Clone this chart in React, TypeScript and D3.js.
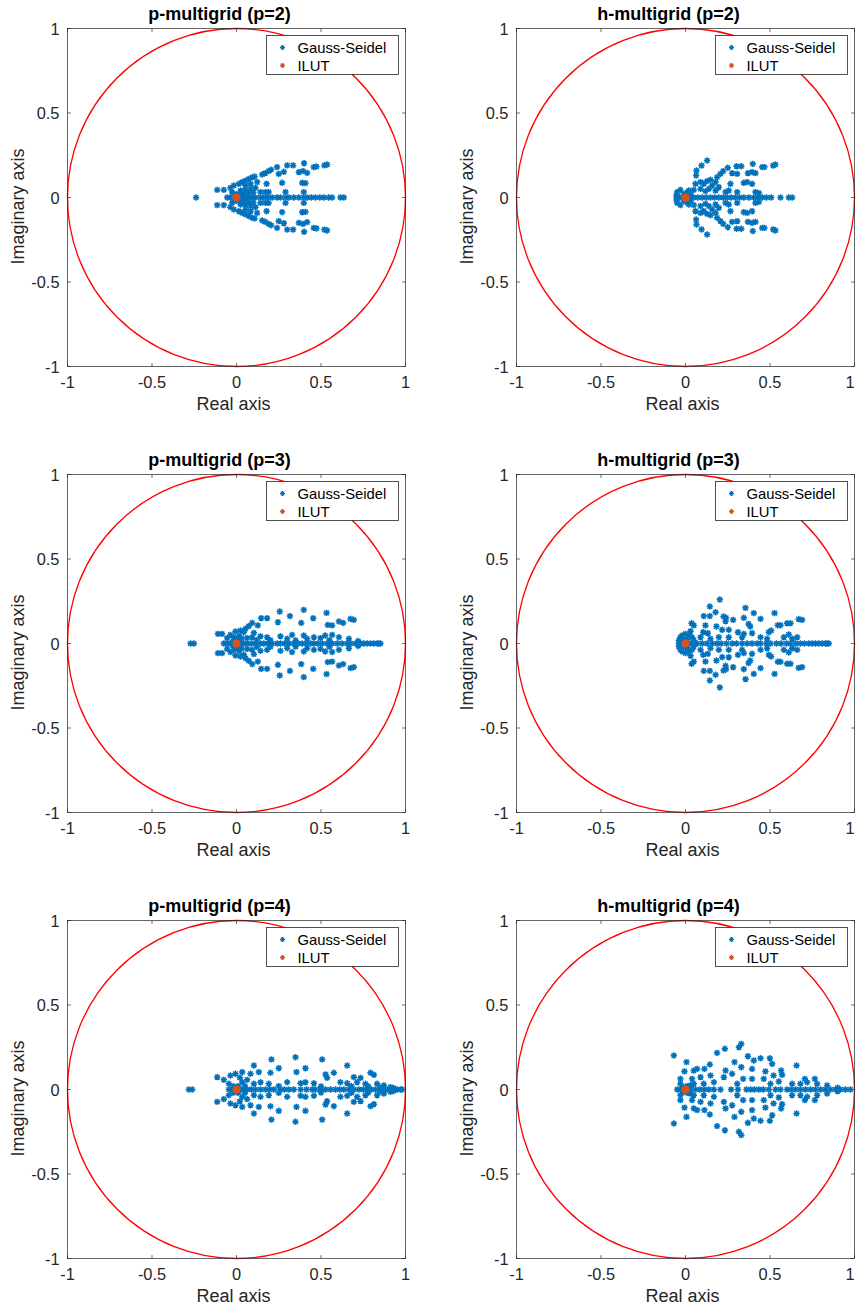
import React from 'react';
import * as d3 from 'd3';

type Pt = [number, number];

// ---------- tick labels ----------
const tickValues = [-1, -0.5, 0, 0.5, 1];
const legendLabels = ['Gauss-Seidel', 'ILUT'];

// ---------- p-multigrid (p=2) ----------
const pMg2Real = [-0.239, -0.055, -0.036, -0.016, 0, 0.01, 0.02, 0.034, 0.053, 0.073, 0.093, 0.112, 0.142, 0.162, 0.185, 0.211, 0.241, 0.26, 0.29, 0.31, 0.339, 0.369, 0.398, 0.418, 0.442, 0.467, 0.493, 0.517, 0.546, 0.566, 0.615, 0.635];
const pMg2Upper: Pt[] = [[-0.114, 0.045], [-0.075, 0.045], [-0.036, 0.057], [-0.016, 0.071], [0.014, 0.081], [0.034, 0.091], [0.053, 0.1], [0.073, 0.11], [0.093, 0.12], [0.107, 0.124], [0.152, 0.136], [0.17, 0.144], [0.19, 0.156], [0.205, 0.164], [0.24, 0.18], [0.3, 0.19], [0.335, 0.19], [0.4, 0.203], [0.457, 0.18], [0.473, 0.183], [0.52, 0.19], [0.536, 0.195], [0.25, 0.14], [0.28, 0.152], [0.369, 0.15], [0.394, 0.156], [0.418, 0.146], [0.178, 0.081], [0.27, 0.087], [0.389, 0.087], [0.408, 0.085], [-0.026, 0.032], [0.024, 0.041], [0.053, 0.045], [0.083, 0.051], [0.112, 0.057], [0.142, 0.032], [0.172, 0.032], [0.19, 0.032], [0.29, 0.032], [0.398, 0.032], [0.053, 0.071], [0.083, 0.081], [0.122, 0.091], [0, 0.02], [0.02, 0.015], [-0.01, 0.015], [0.04, 0.02], [0.07, 0.025], [0.1, 0.03]];
const pMg2Lower: Pt[] = [[-0.114, -0.045], [-0.075, -0.045], [-0.036, -0.057], [-0.016, -0.071], [0.014, -0.081], [0.034, -0.091], [0.053, -0.1], [0.073, -0.11], [0.093, -0.12], [0.107, -0.124], [0.152, -0.136], [0.17, -0.144], [0.19, -0.156], [0.205, -0.164], [0.24, -0.18], [0.3, -0.19], [0.335, -0.19], [0.4, -0.203], [0.457, -0.18], [0.473, -0.183], [0.52, -0.19], [0.536, -0.195], [0.25, -0.14], [0.28, -0.152], [0.369, -0.15], [0.394, -0.156], [0.418, -0.146], [0.178, -0.081], [0.27, -0.087], [0.389, -0.087], [0.408, -0.085], [-0.026, -0.032], [0.024, -0.041], [0.053, -0.045], [0.083, -0.051], [0.112, -0.057], [0.142, -0.032], [0.172, -0.032], [0.19, -0.032], [0.29, -0.032], [0.398, -0.032], [0.053, -0.071], [0.083, -0.081], [0.122, -0.091], [0, -0.02], [0.02, -0.015], [-0.01, -0.015], [0.04, -0.02], [0.07, -0.025], [0.1, -0.03]];
const pMg2Ilut: Pt[] = [[0, 0], [0.007, 0], [-0.007, 0], [0.003, 0.006], [0.003, -0.006], [-0.004, 0.005], [-0.004, -0.005]];

// ---------- h-multigrid (p=2) ----------
const hMg2Real = [-0.053, -0.034, -0.014, 0, 0.01, 0.03, 0.049, 0.073, 0.099, 0.124, 0.148, 0.172, 0.197, 0.223, 0.247, 0.27, 0.296, 0.321, 0.345, 0.375, 0.404, 0.428, 0.454, 0.479, 0.507, 0.562, 0.611, 0.631];
const hMg2Upper: Pt[] = [[0.128, 0.219], [0.095, 0.189], [0.065, 0.16], [0.063, 0.13], [0.059, 0.081], [0.089, 0.091], [0.108, 0.081], [0.128, 0.097], [0.148, 0.105], [0.158, 0.071], [0.178, 0.091], [0.187, 0.12], [0.207, 0.14], [0.223, 0.156], [0.25, 0.176], [0.276, 0.144], [0.302, 0.185], [0.33, 0.185], [0.306, 0.14], [0.369, 0.144], [0.394, 0.15], [0.414, 0.144], [0.398, 0.199], [0.454, 0.18], [0.467, 0.18], [0.519, 0.189], [0.532, 0.195], [0.266, 0.081], [0.345, 0.087], [0.365, 0.091], [0.394, 0.081], [0.237, 0.032], [0.256, 0.041], [0.306, 0.032], [0.414, 0.032], [0.434, 0.026], [-0.049, 0.032], [-0.03, 0.045], [0.02, 0.041], [0.049, 0.045], [0.089, 0.051], [0.118, 0.037], [0.138, 0.051], [0.178, 0.041], [0.197, 0.061], [-0.053, 0.015], [-0.01, 0.02], [0.01, 0.03], [0.03, 0.02]];
const hMg2Lower: Pt[] = [[0.128, -0.219], [0.095, -0.189], [0.065, -0.16], [0.063, -0.13], [0.059, -0.081], [0.089, -0.091], [0.108, -0.081], [0.128, -0.097], [0.148, -0.105], [0.158, -0.071], [0.178, -0.091], [0.187, -0.12], [0.207, -0.14], [0.223, -0.156], [0.25, -0.176], [0.276, -0.144], [0.302, -0.185], [0.33, -0.185], [0.306, -0.14], [0.369, -0.144], [0.394, -0.15], [0.414, -0.144], [0.398, -0.199], [0.454, -0.18], [0.467, -0.18], [0.519, -0.189], [0.532, -0.195], [0.266, -0.081], [0.345, -0.087], [0.365, -0.091], [0.394, -0.081], [0.237, -0.032], [0.256, -0.041], [0.306, -0.032], [0.414, -0.032], [0.434, -0.026], [-0.049, -0.032], [-0.03, -0.045], [0.02, -0.041], [0.049, -0.045], [0.089, -0.051], [0.118, -0.037], [0.138, -0.051], [0.178, -0.041], [0.197, -0.061], [-0.053, -0.015], [-0.01, -0.02], [0.01, -0.03], [0.03, -0.02]];
const hMg2Ilut: Pt[] = [[0, 0], [0.007, 0], [-0.007, 0], [0.003, 0.006], [0.003, -0.006], [-0.004, 0.005], [-0.004, -0.005]];

// ---------- p-multigrid (p=3) ----------
const pMg3Real = [-0.272, -0.252, -0.075, -0.055, -0.036, -0.016, 0, 0.01, 0.024, 0.043, 0.063, 0.087, 0.112, 0.142, 0.162, 0.185, 0.211, 0.241, 0.26, 0.284, 0.31, 0.339, 0.363, 0.389, 0.414, 0.438, 0.458, 0.481, 0.507, 0.536, 0.566, 0.596, 0.625, 0.655, 0.675, 0.704, 0.734, 0.753, 0.773, 0.793, 0.813, 0.832, 0.842, 0.852];
const pMg3Upper: Pt[] = [[0.256, 0.189], [0.398, 0.199], [0.533, 0.181], [0.316, 0.162], [0.146, 0.15], [0.181, 0.15], [0.245, 0.126], [0.383, 0.122], [0.454, 0.15], [0.606, 0.13], [0.631, 0.122], [0.675, 0.146], [0.694, 0.14], [0.54, 0.11], [0.566, 0.107], [0.093, 0.122], [0.073, 0.103], [0.053, 0.087], [0.126, 0.107], [-0.11, 0.057], [-0.085, 0.057], [-0.036, 0.051], [-0.006, 0.071], [0.024, 0.077], [0.043, 0.067], [0.103, 0.063], [0.142, 0.043], [0.181, 0.037], [0.26, 0.043], [0.329, 0.051], [0.398, 0.047], [0.458, 0.037], [0.525, 0.047], [0.566, 0.051], [0.606, 0.037], [0.665, 0.028], [-0.055, 0.032], [-0.016, 0.037], [0.063, 0.032], [0.093, 0.037], [0.3, 0.028], [0.418, 0.028], [0.497, 0.032], [0.01, 0.02], [0.03, 0.03], [-0.02, 0.015], [0.12, 0.02], [0.2, 0.02], [0.35, 0.018], [0.55, 0.02], [0.72, 0.015], [0.015, 0.045]];
const pMg3Lower: Pt[] = [[0.256, -0.189], [0.398, -0.199], [0.533, -0.181], [0.316, -0.162], [0.146, -0.15], [0.181, -0.15], [0.245, -0.126], [0.383, -0.122], [0.454, -0.15], [0.606, -0.13], [0.631, -0.122], [0.675, -0.146], [0.694, -0.14], [0.54, -0.11], [0.566, -0.107], [0.093, -0.122], [0.073, -0.103], [0.053, -0.087], [0.126, -0.107], [-0.11, -0.057], [-0.085, -0.057], [-0.036, -0.051], [-0.006, -0.071], [0.024, -0.077], [0.043, -0.067], [0.103, -0.063], [0.142, -0.043], [0.181, -0.037], [0.26, -0.043], [0.329, -0.051], [0.398, -0.047], [0.458, -0.037], [0.525, -0.047], [0.566, -0.051], [0.606, -0.037], [0.665, -0.028], [-0.055, -0.032], [-0.016, -0.037], [0.063, -0.032], [0.093, -0.037], [0.3, -0.028], [0.418, -0.028], [0.497, -0.032], [0.01, -0.02], [0.03, -0.03], [-0.02, -0.015], [0.12, -0.02], [0.2, -0.02], [0.35, -0.018], [0.55, -0.02], [0.72, -0.015], [0.015, -0.045]];
const pMg3Ilut: Pt[] = [[0, 0], [0.006, 0], [-0.006, 0], [0.003, 0.005], [0.003, -0.005], [-0.003, 0.004], [-0.003, -0.004]];

// ---------- h-multigrid (p=3) ----------
const hMg3Real = [-0.039, -0.026, -0.012, 0, 0.01, 0.02, 0.039, 0.069, 0.099, 0.128, 0.158, 0.187, 0.211, 0.243, 0.276, 0.302, 0.335, 0.365, 0.394, 0.424, 0.444, 0.479, 0.503, 0.538, 0.566, 0.598, 0.621, 0.651, 0.68, 0.704, 0.73, 0.75, 0.769, 0.789, 0.809, 0.828, 0.838, 0.848];
const hMg3Upper: Pt[] = [[0.203, 0.26], [0.144, 0.219], [0.355, 0.211], [0.178, 0.185], [0.108, 0.162], [0.144, 0.162], [0.225, 0.16], [0.24, 0.152], [0.404, 0.18], [0.527, 0.18], [0.345, 0.152], [0.282, 0.14], [0.444, 0.146], [0.036, 0.12], [0.049, 0.107], [0.118, 0.107], [0.183, 0.101], [0.237, 0.132], [0.373, 0.116], [0.383, 0.101], [0.546, 0.108], [0.562, 0.108], [0.601, 0.12], [0.621, 0.12], [0.67, 0.144], [0.69, 0.14], [0.493, 0.067], [0.507, 0.077], [0.105, 0.067], [0.132, 0.061], [0.217, 0.081], [0.256, 0.081], [0.31, 0.067], [0.345, 0.057], [0.394, 0.061], [0.03, 0.073], [0.089, 0.037], [0.148, 0.028], [0.197, 0.037], [0.256, 0.037], [0.335, 0.037], [0.444, 0.037], [0.483, 0.028], [0.582, 0.037], [0.611, 0.053], [0.631, 0.028], [0.661, 0.037], [-0.03, 0.037], [-0.02, 0.047], [0, 0.057], [0.02, 0.047], [0.039, 0.037], [-0.039, 0.018], [0.049, 0.018], [0.01, 0.025], [-0.01, 0.02]];
const hMg3Lower: Pt[] = [[0.203, -0.26], [0.144, -0.219], [0.355, -0.211], [0.178, -0.185], [0.108, -0.162], [0.144, -0.162], [0.225, -0.16], [0.24, -0.152], [0.404, -0.18], [0.527, -0.18], [0.345, -0.152], [0.282, -0.14], [0.444, -0.146], [0.036, -0.12], [0.049, -0.107], [0.118, -0.107], [0.183, -0.101], [0.237, -0.132], [0.373, -0.116], [0.383, -0.101], [0.546, -0.108], [0.562, -0.108], [0.601, -0.12], [0.621, -0.12], [0.67, -0.144], [0.69, -0.14], [0.493, -0.067], [0.507, -0.077], [0.105, -0.067], [0.132, -0.061], [0.217, -0.081], [0.256, -0.081], [0.31, -0.067], [0.345, -0.057], [0.394, -0.061], [0.03, -0.073], [0.089, -0.037], [0.148, -0.028], [0.197, -0.037], [0.256, -0.037], [0.335, -0.037], [0.444, -0.037], [0.483, -0.028], [0.582, -0.037], [0.611, -0.053], [0.631, -0.028], [0.661, -0.037], [-0.03, -0.037], [-0.02, -0.047], [0, -0.057], [0.02, -0.047], [0.039, -0.037], [-0.039, -0.018], [0.049, -0.018], [0.01, -0.025], [-0.01, -0.02]];
const hMg3Ilut: Pt[] = [[0, 0], [0.006, 0], [-0.006, 0], [0.003, 0.005], [0.003, -0.005], [-0.003, 0.004], [-0.003, -0.004]];

// ---------- p-multigrid (p=4) ----------
const pMg4Real = [-0.282, -0.262, -0.045, -0.026, 0, 0.01, 0.024, 0.043, 0.063, 0.087, 0.112, 0.142, 0.172, 0.197, 0.221, 0.26, 0.284, 0.31, 0.339, 0.379, 0.414, 0.448, 0.467, 0.497, 0.527, 0.556, 0.586, 0.611, 0.635, 0.665, 0.694, 0.724, 0.75, 0.773, 0.797, 0.822, 0.848, 0.872, 0.892, 0.911, 0.931, 0.951, 0.97, 0.98];
const pMg4Upper: Pt[] = [[0.349, 0.191], [0.507, 0.178], [0.207, 0.178], [0.103, 0.142], [0.25, 0.126], [0.408, 0.126], [0.655, 0.142], [0.355, 0.103], [0.201, 0.099], [0.132, 0.103], [0.083, 0.093], [0.034, 0.103], [-0.006, 0.093], [-0.114, 0.073], [-0.075, 0.057], [-0.036, 0.083], [0.527, 0.089], [0.576, 0.099], [0.694, 0.073], [0.734, 0.069], [0.793, 0.099], [0.813, 0.087], [0.536, 0.069], [0.458, 0.037], [0.408, 0.043], [0.379, 0.037], [0.3, 0.043], [0.191, 0.034], [0.142, 0.043], [0.063, 0.057], [0.615, 0.043], [0.655, 0.037], [0.714, 0.043], [0.763, 0.034], [0.832, 0.034], [0.872, 0.024], [0.911, 0.014], [-0.045, 0.034], [0.034, 0.043], [0.103, 0.034], [0.01, 0.02], [-0.02, 0.02], [0.05, 0.02], [0.25, 0.02], [0.5, 0.018], [0.68, 0.02], [0.78, 0.018], [0.85, 0.012], [0.93, 0.008], [0.02, 0.07]];
const pMg4Lower: Pt[] = [[0.349, -0.191], [0.507, -0.178], [0.207, -0.178], [0.103, -0.142], [0.25, -0.126], [0.408, -0.126], [0.655, -0.142], [0.355, -0.103], [0.201, -0.099], [0.132, -0.103], [0.083, -0.093], [0.034, -0.103], [-0.006, -0.093], [-0.114, -0.073], [-0.075, -0.057], [-0.036, -0.083], [0.527, -0.089], [0.576, -0.099], [0.694, -0.073], [0.734, -0.069], [0.793, -0.099], [0.813, -0.087], [0.536, -0.069], [0.458, -0.037], [0.408, -0.043], [0.379, -0.037], [0.3, -0.043], [0.191, -0.034], [0.142, -0.043], [0.063, -0.057], [0.615, -0.043], [0.655, -0.037], [0.714, -0.043], [0.763, -0.034], [0.832, -0.034], [0.872, -0.024], [0.911, -0.014], [-0.045, -0.034], [0.034, -0.043], [0.103, -0.034], [0.01, -0.02], [-0.02, -0.02], [0.05, -0.02], [0.25, -0.02], [0.5, -0.018], [0.68, -0.02], [0.78, -0.018], [0.85, -0.012], [0.93, -0.008], [0.02, -0.07]];
const pMg4Ilut: Pt[] = [[0, 0], [0.006, 0], [-0.006, 0], [0.003, 0.005], [0.003, -0.005], [-0.003, 0.004], [-0.003, -0.004]];

// ---------- h-multigrid (p=4) ----------
const hMg4Real = [-0.049, -0.03, -0.01, 0, 0.01, 0.03, 0.059, 0.085, 0.112, 0.138, 0.168, 0.207, 0.27, 0.31, 0.361, 0.385, 0.408, 0.434, 0.46, 0.493, 0.533, 0.562, 0.601, 0.625, 0.651, 0.68, 0.71, 0.74, 0.769, 0.799, 0.828, 0.858, 0.888, 0.917, 0.947, 0.976];
const hMg4Upper: Pt[] = [[-0.069, 0.201], [0.006, 0.162], [-0.006, 0.107], [0.049, 0.112], [0.069, 0.122], [0.112, 0.122], [0.144, 0.148], [0.187, 0.217], [0.233, 0.241], [0.316, 0.25], [0.33, 0.27], [0.369, 0.197], [0.404, 0.172], [0.444, 0.185], [0.499, 0.185], [0.513, 0.152], [0.29, 0.162], [0.237, 0.112], [0.276, 0.093], [0.33, 0.132], [0.394, 0.122], [0.473, 0.107], [0.521, 0.083], [0.566, 0.112], [0.572, 0.087], [0.657, 0.142], [0.706, 0.063], [0.765, 0.063], [0.72, 0.043], [0.089, 0.073], [0.148, 0.083], [0.227, 0.073], [0.341, 0.063], [0.394, 0.063], [0.463, 0.063], [0.552, 0.047], [0.631, 0.034], [0.68, 0.034], [0.779, 0.034], [0.838, 0.024], [-0.03, 0.063], [-0.03, 0.034], [0.039, 0.063], [0.049, 0.034], [0.108, 0.034], [0.168, 0.043], [0.306, 0.034], [0.503, 0.034], [0.01, 0.02], [-0.015, 0.015], [0.03, 0.025], [0.9, 0.01]];
const hMg4Lower: Pt[] = [[-0.069, -0.201], [0.006, -0.162], [-0.006, -0.107], [0.049, -0.112], [0.069, -0.122], [0.112, -0.122], [0.144, -0.148], [0.187, -0.217], [0.233, -0.241], [0.316, -0.25], [0.33, -0.27], [0.369, -0.197], [0.404, -0.172], [0.444, -0.185], [0.499, -0.185], [0.513, -0.152], [0.29, -0.162], [0.237, -0.112], [0.276, -0.093], [0.33, -0.132], [0.394, -0.122], [0.473, -0.107], [0.521, -0.083], [0.566, -0.112], [0.572, -0.087], [0.657, -0.142], [0.706, -0.063], [0.765, -0.063], [0.72, -0.043], [0.089, -0.073], [0.148, -0.083], [0.227, -0.073], [0.341, -0.063], [0.394, -0.063], [0.463, -0.063], [0.552, -0.047], [0.631, -0.034], [0.68, -0.034], [0.779, -0.034], [0.838, -0.024], [-0.03, -0.063], [-0.03, -0.034], [0.039, -0.063], [0.049, -0.034], [0.108, -0.034], [0.168, -0.043], [0.306, -0.034], [0.503, -0.034], [0.01, -0.02], [-0.015, -0.015], [0.03, -0.025], [0.9, -0.01]];
const hMg4Ilut: Pt[] = [[0, 0], [0.006, 0], [-0.006, 0], [0.003, 0.005], [0.003, -0.005], [-0.003, 0.004], [-0.003, -0.004]];

const panelTitles = ['p-multigrid (p=2)', 'h-multigrid (p=2)', 'p-multigrid (p=3)', 'h-multigrid (p=3)', 'p-multigrid (p=4)', 'h-multigrid (p=4)'];

const GS_COLOR = '#0072BD';
const ILUT_COLOR = '#D95319';
const AX_COLOR = '#262626';
const FONT = '"Liberation Sans", Arial, Helvetica, sans-serif';
const PAGE_W = 856;

function asteriskPath(s: number) {
  const d = s * 0.72;
  return `M${-s},0L${s},0M0,${-s}L0,${s}M${-d},${-d}L${d},${d}M${-d},${d}L${d},${-d}`;
}
const STAR = asteriskPath(3.2);

interface PanelProps {
  left: number;
  top: number;
  title: string;
  real: number[];
  upper: Pt[];
  lower: Pt[];
  ilut: Pt[];
}

function Panel({ left, top, title, real, upper, lower, ilut }: PanelProps) {
  const size = 338;
  const x = d3.scaleLinear().domain([-1, 1]).range([left, left + size]);
  const y = d3.scaleLinear().domain([-1, 1]).range([top + size, top]);
  const gs: Pt[] = [...real.map((r) => [r, 0] as Pt), ...upper, ...lower];
  const r = x(1) - x(0);
  const tickLen = 3.4;
  const lx = x(1) - 139;
  const ly = y(1) + 7;
  return (
    <g>
      <rect x={x(-1)} y={y(1)} width={size} height={size} fill="#fff" />
      <circle cx={x(0)} cy={y(0)} r={r} fill="none" stroke="#FF0000" strokeWidth={1.3} />
      {/* box */}
      <rect x={x(-1)} y={y(1)} width={size} height={size} fill="none" stroke={AX_COLOR} strokeWidth={0.7} />
      {/* ticks */}
      {tickValues.map((t) => (
        <g key={'xt' + t}>
          <line x1={x(t)} x2={x(t)} y1={y(-1)} y2={y(-1) - tickLen} stroke={AX_COLOR} strokeWidth={0.7} />
          <line x1={x(t)} x2={x(t)} y1={y(1)} y2={y(1) + tickLen} stroke={AX_COLOR} strokeWidth={0.7} />
          <text x={Math.min(x(t), PAGE_W - 6)} y={y(-1) + 21} textAnchor="middle" fontSize={16.4} fill={AX_COLOR} fontFamily={FONT}>{String(t)}</text>
        </g>
      ))}
      {tickValues.map((t) => (
        <g key={'yt' + t}>
          <line x1={x(-1)} x2={x(-1) + tickLen} y1={y(t)} y2={y(t)} stroke={AX_COLOR} strokeWidth={0.7} />
          <line x1={x(1)} x2={x(1) - tickLen} y1={y(t)} y2={y(t)} stroke={AX_COLOR} strokeWidth={0.7} />
          <text x={x(-1) - 8} y={y(t) + 6} textAnchor="end" fontSize={16.4} fill={AX_COLOR} fontFamily={FONT}>{String(t)}</text>
        </g>
      ))}
      {/* points */}
      {gs.map((p, i) => (
        <path key={'g' + i} d={STAR} transform={`translate(${x(p[0])},${y(p[1])})`} stroke={GS_COLOR} strokeWidth={1.5} fill="none" />
      ))}
      {ilut.map((p, i) => (
        <path key={'i' + i} d={STAR} transform={`translate(${x(p[0])},${y(p[1])})`} stroke={ILUT_COLOR} strokeWidth={1.5} fill="none" />
      ))}
      {/* labels */}
      <text x={x(0) - 17} y={y(1) - 9} textAnchor="middle" fontSize={18} fontWeight="bold" fill="#000" fontFamily={FONT}>{title}</text>
      <text x={x(0) - 3} y={y(-1) + 43} textAnchor="middle" fontSize={18} fill={AX_COLOR} fontFamily={FONT}>Real axis</text>
      <text transform={`translate(${x(-1) - 44},${y(0) + 9}) rotate(-90)`} textAnchor="middle" fontSize={18} fill={AX_COLOR} fontFamily={FONT}>Imaginary axis</text>
      {/* legend */}
      <rect x={lx} y={ly} width={132} height={39} fill="#fff" stroke={AX_COLOR} strokeWidth={0.8} />
      <path d={asteriskPath(2.5)} transform={`translate(${lx + 16},${ly + 12})`} stroke={GS_COLOR} strokeWidth={1.2} fill="none" />
      <path d={asteriskPath(2.5)} transform={`translate(${lx + 16},${ly + 30})`} stroke={ILUT_COLOR} strokeWidth={1.2} fill="none" />
      <text x={lx + 31} y={ly + 17} fontSize={14.8} fill="#000" fontFamily={FONT}>{legendLabels[0]}</text>
      <text x={lx + 31} y={ly + 35} fontSize={14.8} fill="#000" fontFamily={FONT}>{legendLabels[1]}</text>
    </g>
  );
}

const panelData = [
  { real: pMg2Real, upper: pMg2Upper, lower: pMg2Lower, ilut: pMg2Ilut },
  { real: hMg2Real, upper: hMg2Upper, lower: hMg2Lower, ilut: hMg2Ilut },
  { real: pMg3Real, upper: pMg3Upper, lower: pMg3Lower, ilut: pMg3Ilut },
  { real: hMg3Real, upper: hMg3Upper, lower: hMg3Lower, ilut: hMg3Ilut },
  { real: pMg4Real, upper: pMg4Upper, lower: pMg4Lower, ilut: pMg4Ilut },
  { real: hMg4Real, upper: hMg4Upper, lower: hMg4Lower, ilut: hMg4Ilut },
];

const colLefts = [67.5, 516.5];
const rowTops = [28.5, 474.5, 920.5];

export default function App() {
  return (
    <svg width={856} height={1307} style={{ position: 'absolute', left: 0, top: 0, background: '#fff' }}>
      <rect width={856} height={1307} fill="#fff" />
      {panelData.map((d, i) => (
        <Panel
          key={i}
          left={colLefts[i % 2]}
          top={rowTops[Math.floor(i / 2)]}
          title={panelTitles[i]}
          real={d.real}
          upper={d.upper}
          lower={d.lower}
          ilut={d.ilut}
        />
      ))}
    </svg>
  );
}
